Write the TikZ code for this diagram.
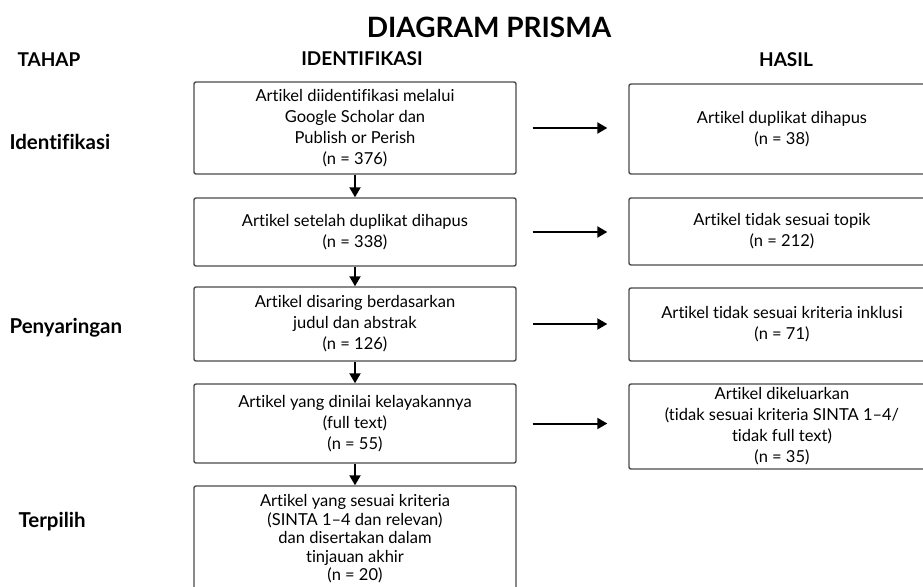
\documentclass[tikz,border=0pt]{standalone}
\usepackage{fontspec}
\setmainfont{Lato}[Ligatures=CommonOff]
\usepackage{tikz}
\usetikzlibrary{arrows.meta}
\usetikzlibrary{positioning}
\definecolor{boxgray}{HTML}{4A4A4A}

\begin{document}
\begin{tikzpicture}[x=1pt, y=-1pt]
	\useasboundingbox (0,0) rectangle (923,586);
	\begin{scope}[every node/.style={font=\fontsize{19}{22}\selectfont\bfseries}]
		\node[font=\fontsize{28}{30}\selectfont\bfseries] (judul) at (489,27) {DIAGRAM PRISMA};
		\node[anchor=west] (tahap) at (14,60) {TAHAP};
		\node (ident) at (362,59) {IDENTIFIKASI};
		\node (hasil) at (786,60) {HASIL};
	\end{scope}

	\begin{scope}[every node/.style={anchor=west, font=\fontsize{20.5}{24}\selectfont\bfseries}]
		\node (s1) at (6,142) {Identifikasi};
		\node (s2) at (6,328) {Penyaringan};
		\node (s3) at (15,522) {Terpilih};
	\end{scope}

	\begin{scope}[every node/.style={draw=boxgray, line width=1.4pt, rounded corners=2pt, align=center, inner sep=0pt,
	              font=\fontsize{16.5}{21}\selectfont}]
		\node[minimum width=322, minimum height=92] (b1) at (355,128) {Artikel diidentifikasi melalui\\Google Scholar dan\\Publish or Perish\\(n = 376)};
		\node[minimum width=322, minimum height=68] (b2) at (355,232) {Artikel setelah duplikat dihapus\\(n = 338)};
		\node[minimum width=322, minimum height=74] (b3) at (355,324) {Artikel disaring berdasarkan\\judul dan abstrak\\(n = 126)};
		\node[minimum width=322, minimum height=79] (b4) at (355,423.5) {Artikel yang dinilai kelayakannya\\(full text)\\(n = 55)};
		\node[minimum width=322, minimum height=106, font=\fontsize{16.5}{18.5}\selectfont] (b5) at (355,539) {Artikel yang sesuai kriteria\\(SINTA 1--4 dan relevan)\\dan disertakan dalam\\tinjauan akhir\\(n = 20)};
		\node[minimum width=306, minimum height=90] (r1) at (782,129) {Artikel duplikat dihapus\\(n = 38)};
		\node[minimum width=306, minimum height=67] (r2) at (782,231.5) {Artikel tidak sesuai topik\\(n = 212)};
		\node[minimum width=306, minimum height=73] (r3) at (782,324.5) {Artikel tidak sesuai kriteria inklusi\\(n = 71)};
		\node[minimum width=306, minimum height=85] (r4) at (782,426.5) {Artikel dikeluarkan\\(tidak sesuai kriteria SINTA 1--4/\\tidak full text)\\(n = 35)};
	\end{scope}

	\begin{scope}[every edge/.style={draw=black, line width=2pt, -{Triangle[length=10pt, width=11pt]}}]
		\path (b1) edge (b2);
		\path (b2) edge (b3);
		\path (b3) edge (b4);
		\path (b4) edge (b5);
		\path (b1.east) edge[shorten <=16pt, shorten >=21pt] (b1.east -| r1.west);
		\path (b2.east) edge[shorten <=16pt, shorten >=21pt] (b2.east -| r2.west);
		\path (b3.east) edge[shorten <=16pt, shorten >=21pt] (b3.east -| r3.west);
		\path (b4.east) edge[shorten <=16pt, shorten >=21pt] (b4.east -| r4.west);
	\end{scope}
\end{tikzpicture}
\end{document}
